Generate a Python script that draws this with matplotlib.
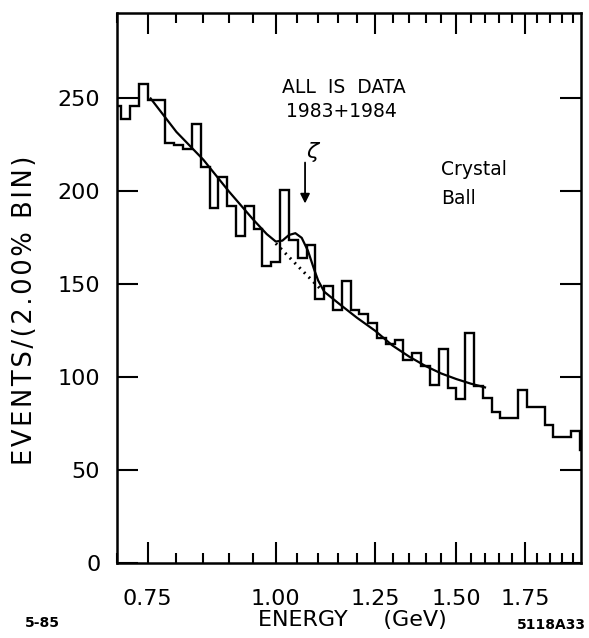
import numpy as np
import matplotlib
matplotlib.use("Agg")
import matplotlib.pyplot as plt
from matplotlib.ticker import FixedLocator, FixedFormatter, NullFormatter

plt.rcParams['font.family'] = ['DejaVu Sans']

# 2% bins, first bin centred on 0.70 GeV
first_centre = 0.70
bin_ratio = 1.02
counts = [246, 239, 246, 258, 249, 249, 226, 225, 223, 236,
          213, 191, 208, 192, 176, 192, 180, 160, 162, 201,
          174, 164, 171, 142, 149, 136, 152, 136, 134, 129,
          121, 118, 120, 109, 113, 106, 96, 115, 94, 88,
          124, 95, 89, 81, 78, 78, 93, 84, 84, 74,
          68, 68, 71, 61]

# fit (solid) and background under the signal (dotted)
fit_e = [0.755, 0.80, 0.85, 0.90, 0.95, 0.98, 1.00, 1.015, 1.03, 1.045,
         1.06, 1.075, 1.09, 1.10, 1.115, 1.15, 1.20, 1.25, 1.30, 1.35,
         1.40, 1.45, 1.50, 1.55, 1.60]
fit_n = [250, 232, 217, 200, 185, 177, 173, 173.5, 176.5, 177.5,
         175, 168, 158, 152, 146, 140, 132, 125, 117, 111,
         106, 102, 99, 96.5, 94.5]
bkg_e = [1.00, 1.05, 1.108]
bkg_n = [172, 160, 147]

major_ticks = [0.75, 1.00, 1.25, 1.50, 1.75]
major_labels = ['0.75', '1.00', '1.25', '1.50', '1.75']
minor_ticks = [0.70, 0.80, 0.85, 0.90, 0.95, 1.05, 1.10, 1.15, 1.20,
               1.30, 1.35, 1.40, 1.45, 1.55, 1.60, 1.65, 1.70,
               1.80, 1.85, 1.90, 1.95]
y_ticks = [0, 50, 100, 150, 200, 250]

edges = first_centre * bin_ratio ** (np.arange(len(counts) + 1) - 0.5)

fig = plt.figure(figsize=(5.89, 6.38), dpi=100)
ax = fig.add_axes([0.1986, 0.1176, 0.7878, 0.862])

ax.stairs(counts, edges, baseline=None, color='black', lw=1.7)
ax.plot(fit_e, fit_n, color='black', lw=1.6)
ax.plot(bkg_e, bkg_n, color='black', lw=2.2, ls=(0, (0.6, 1.6)))

ax.set_xscale('log')
ax.set_xlim(0.70, 1.985)
ax.set_ylim(0, 296)

ax.xaxis.set_major_locator(FixedLocator(major_ticks))
ax.xaxis.set_major_formatter(FixedFormatter(major_labels))
ax.xaxis.set_minor_locator(FixedLocator(minor_ticks))
ax.xaxis.set_minor_formatter(NullFormatter())
ax.set_yticks(y_ticks)
ax.set_yticklabels([str(t) for t in y_ticks])

ax.tick_params(which='both', direction='in', top=True, right=True,
               width=1.5, labelsize=16)
ax.tick_params(axis='x', which='major', length=15, pad=19)
ax.tick_params(axis='x', which='minor', length=7)
ax.tick_params(axis='y', which='major', length=15, pad=12)
for s in ax.spines.values():
    s.set_linewidth(1.8)

ax.annotate('', xy=(1.068, 192), xytext=(1.068, 217),
            arrowprops=dict(arrowstyle='-|>', color='black', lw=1.3,
                            mutation_scale=14))
ax.text(1.088, 221, r'$\zeta$', fontsize=16, ha='center', va='center')
ax.text(1.165, 256, 'ALL  IS  DATA', fontsize=13.5, ha='center', va='center')
ax.text(1.16, 243, '1983+1984', fontsize=13.5, ha='center', va='center')
ax.text(1.45, 212, 'Crystal', fontsize=13.5, ha='left', va='center')
ax.text(1.45, 196, 'Ball', fontsize=13.5, ha='left', va='center')

ylabel = '\u200a'.join('EVENTS/(2.00% BIN)')
fig.text(0.042, 0.514, ylabel, rotation=90, fontsize=18.5,
         ha='center', va='center')
fig.text(0.598, 0.028, 'ENERGY     (GeV)', fontsize=16, ha='center',
         va='center')
fig.text(0.072, 0.024, '5-85', fontsize=10, fontweight='bold',
         ha='center', va='center')
fig.text(0.936, 0.021, '5118A33', fontsize=10, fontweight='bold',
         ha='center', va='center')

fig.savefig('out.png', dpi=100)
